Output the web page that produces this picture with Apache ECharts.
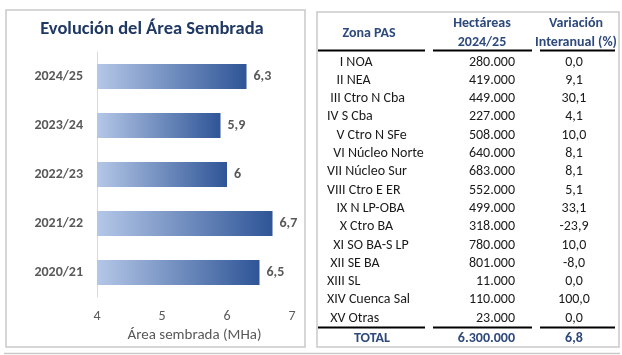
<!DOCTYPE html>
<html><head><meta charset="utf-8">
<script src="https://cdn.jsdelivr.net/npm/echarts@6/dist/echarts.min.js"></script>
<style>html,body{margin:0;padding:0;background:#fff}#c{width:622px;height:355px}</style>
</head><body><div id="c"></div>
<script>
const FONT = "Carlito, 'Open Sans', sans-serif";
const campaigns = ["2024/25", "2023/24", "2022/23", "2021/22", "2020/21"];
const areaMHa = [6.3, 5.9, 6, 6.7, 6.5];
const xTicks = [4, 5, 6, 7];
const zones = ["    I NOA", "   II NEA", " III Ctro N Cba", "IV S Cba", "   V Ctro N SFe", "  VI Núcleo Norte", "VII Núcleo Sur", "VIII Ctro E ER", "   IX N LP-OBA", "    X Ctro BA", "  XI SO BA-S LP", " XII SE BA", "XIII SL", "XIV Cuenca Sal", " XV Otras"];
const hectareas = ["280.000", "419.000", "449.000", "227.000", "508.000", "640.000", "683.000", "552.000", "499.000", "318.000", "780.000", "801.000", "11.000", "110.000", "23.000"];
const variacion = ["0,0", "9,1", "30,1", "4,1", "10,0", "8,1", "8,1", "5,1", "33,1", "-23,9", "10,0", "-8,0", "0,0", "100,0", "0,0"];
const totalRow = ["TOTAL", "6.300.000", "6,8"];
const headers = [["Zona PAS"], ["Hectáreas", "2024/25"], ["Variación", "Interanual (%)"]];

const chart = echarts.init(document.getElementById('c'), null, {renderer: 'canvas'});
const navy = '#2E4A7D';
const txt = '#1a1a1a';
const g = [];
// panel borders
g.push({type:'rect', shape:{x:6, y:10, width:299, height:337}, style:{fill:'none', stroke:'#c9c9c9', lineWidth:1.5}, silent:true});
g.push({type:'rect', shape:{x:317, y:12, width:302, height:335}, style:{fill:'none', stroke:'#c9c9c9', lineWidth:1.5}, silent:true});
g.push({type:'line', shape:{x1:4, y1:353.5, x2:620, y2:353.5}, style:{stroke:'#c9c9c9', lineWidth:1.5}, silent:true});
// table headers
const colCx = [369, 482, 576];
headers.forEach((h, i) => {
  if (h.length === 1) {
    g.push({type:'text', style:{text:h[0], x:colCx[i], y:33, align:'center', verticalAlign:'middle', font:'bold 14px ' + FONT, fill:navy}});
  } else {
    g.push({type:'text', style:{text:h[0], x:colCx[i], y:23, align:'center', verticalAlign:'middle', font:'bold 14px ' + FONT, fill:navy}});
    g.push({type:'text', style:{text:h[1], x:colCx[i], y:42, align:'center', verticalAlign:'middle', font:'bold 14px ' + FONT, fill:navy}});
  }
});
const ruleX = [[318, 425], [433, 532], [540, 615]];
ruleX.forEach(r => {
  g.push({type:'line', shape:{x1:r[0], y1:50.5, x2:r[1], y2:50.5}, style:{stroke:'#000', lineWidth:2}, silent:true});
  g.push({type:'line', shape:{x1:r[0], y1:327.5, x2:r[1], y2:327.5}, style:{stroke:'#000', lineWidth:2}, silent:true});
});
const rowY0 = 62, rowH = 18.3;
zones.forEach((z, i) => {
  const y = rowY0 + i * rowH;
  g.push({type:'text', style:{text:z, x:327, y:y, align:'left', verticalAlign:'middle', font:'14px ' + FONT, fill:txt}});
  g.push({type:'text', style:{text:hectareas[i], x:515, y:y, align:'right', verticalAlign:'middle', font:'14px ' + FONT, fill:txt}});
  g.push({type:'text', style:{text:variacion[i], x:574, y:y, align:'center', verticalAlign:'middle', font:'14px ' + FONT, fill:txt}});
});
g.push({type:'text', style:{text:totalRow[0], x:372, y:338, align:'center', verticalAlign:'middle', font:'bold 14px ' + FONT, fill:navy}});
g.push({type:'text', style:{text:totalRow[1], x:515, y:338, align:'right', verticalAlign:'middle', font:'bold 14px ' + FONT, fill:navy}});
g.push({type:'text', style:{text:totalRow[2], x:574, y:338, align:'center', verticalAlign:'middle', font:'bold 14px ' + FONT, fill:navy}});
// title
g.push({type:'text', style:{text:'Evolución del Área Sembrada', x:152, y:29, align:'center', verticalAlign:'middle', font:'bold 18.5px ' + FONT, fill:'#1F3864'}});

chart.setOption({
  animation: false,
  backgroundColor: '#fff',
  grid: {left: 97, right: 330, top: 52, bottom: 58},
  xAxis: {type: 'value', min: xTicks[0], max: xTicks[xTicks.length - 1], interval: 1,
    axisLine: {show: false}, axisTick: {show: false}, splitLine: {show: false},
    axisLabel: {fontFamily: FONT, fontSize: 14, color: '#595959', margin: 12},
    name: 'Área sembrada (MHa)', nameLocation: 'middle', nameGap: 31,
    nameTextStyle: {fontFamily: FONT, fontSize: 15, color: '#595959'}},
  yAxis: {type: 'category', data: campaigns, inverse: true,
    axisLine: {show: true, lineStyle: {color: '#d9d9d9', width: 1}}, axisTick: {show: false},
    axisLabel: {fontFamily: FONT, fontSize: 14, fontWeight: 'bold', color: '#595959', margin: 14}},
  series: [{type: 'bar', data: areaMHa, barWidth: 25,
    itemStyle: {color: new echarts.graphic.LinearGradient(0, 0, 1, 0, [
      {offset: 0, color: '#B4C7E7'}, {offset: 1, color: '#2F5597'}])},
    label: {show: true, position: 'right', distance: 7, fontFamily: FONT, fontSize: 14, fontWeight: 'bold', color: '#595959',
      formatter: p => String(p.value).replace('.', ',')}}],
  graphic: g
});
</script></body></html>
